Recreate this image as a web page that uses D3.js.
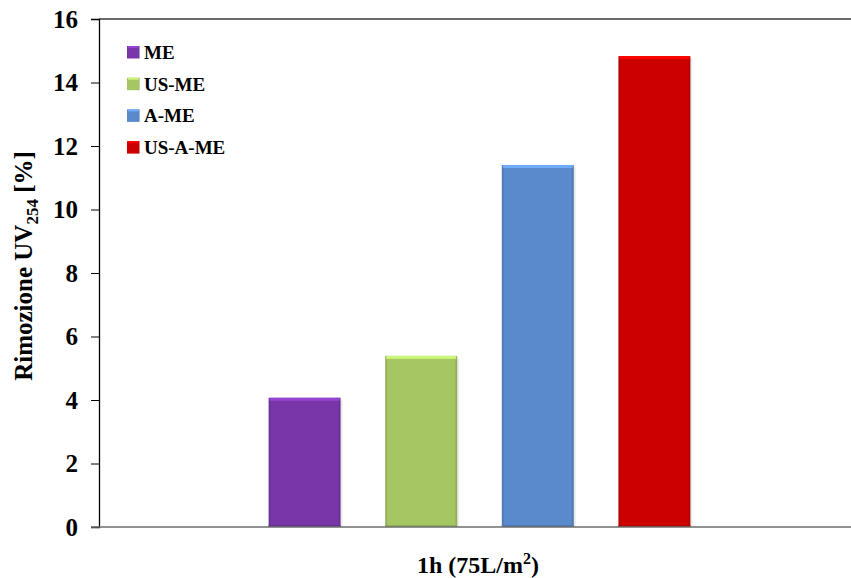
<!DOCTYPE html>
<html><head><meta charset="utf-8">
<script src="https://cdn.jsdelivr.net/npm/d3@7"></script>
<style>body{margin:0;background:#fff}svg{display:block}svg text{font-family:"Liberation Serif","Times New Roman",Times,serif !important;font-weight:bold;fill:#000}</style>
</head><body><div id="chart"></div>
<script>
const categories = ["1h (75L/m²)"];
const seriesNames = ["ME", "US-ME", "A-ME", "US-A-ME"];
const seriesValues = [4.07, 5.39, 11.40, 14.83];
const seriesColors = ["#7836A8", "#A5C663", "#5A8ACB", "#CC0000"];
const yTicks = [0, 2, 4, 6, 8, 10, 12, 14, 16];

const W = 851, H = 578;
const m = {left: 99, top: 19, right: -9, bottom: 51};
const pw = W - m.left - m.right, ph = H - m.top - m.bottom;
const FF = '"Liberation Serif","Times New Roman",Times,serif';

const svg = d3.select("#chart").append("svg").attr("width", W).attr("height", H);
const defs = svg.append("defs");
seriesColors.forEach((c, i) => {
  const g = defs.append("linearGradient").attr("id", "g" + i).attr("x1", 0).attr("x2", 1).attr("y1", 0).attr("y2", 0);
  const dk = d3.color(c).darker(0.5);
  g.append("stop").attr("offset", "0%").attr("stop-color", dk);
  g.append("stop").attr("offset", "4%").attr("stop-color", c);
  g.append("stop").attr("offset", "96%").attr("stop-color", c);
  g.append("stop").attr("offset", "100%").attr("stop-color", dk);
});

const g = svg.append("g").attr("transform", `translate(${m.left},${m.top})`);
const y = d3.scaleLinear().domain([0, 16]).range([ph, 0]);
const x0 = d3.scaleBand().domain(categories).range([0, pw]).padding(0.24);
const x1 = d3.scaleBand().domain(seriesNames).range([0, x0.bandwidth()]).paddingInner(0.383).paddingOuter(0.1915);

g.append("line").attr("x1", 0).attr("x2", pw).attr("y1", 0).attr("y2", 0).attr("stroke", "#3a3a3a").attr("stroke-width", 1.5);

const bg = g.append("g").attr("transform", `translate(${x0(categories[0])},0)`);
seriesNames.forEach((s, i) => {
  const bx = x1(s), bw = x1.bandwidth(), by = y(seriesValues[i]), bh = y(0) - y(seriesValues[i]);
  bg.append("rect").attr("x", bx + 2).attr("y", by + 2).attr("width", bw).attr("height", bh - 2).attr("fill", "#000").attr("opacity", 0.08);
  bg.append("rect").attr("x", bx).attr("y", by).attr("width", bw).attr("height", bh).attr("fill", `url(#g${i})`);
  bg.append("rect").attr("x", bx + 1).attr("y", by).attr("width", bw - 2).attr("height", 3).attr("fill", d3.color(seriesColors[i]).brighter(0.6));
  bg.append("rect").attr("x", bx).attr("y", by + bh - 2).attr("width", bw).attr("height", 2).attr("fill", d3.color(seriesColors[i]).darker(0.4));
});

const ya = g.append("g").call(d3.axisLeft(y).tickValues(yTicks).tickSize(8).tickPadding(13).tickFormat(d3.format("d")));
ya.attr("font-family", FF).attr("font-size", 25).attr("font-weight", "bold");
ya.select(".domain").attr("stroke", "#000").attr("stroke-width", 1.3);
ya.selectAll(".tick line").attr("stroke", "#000");
ya.selectAll("text").attr("fill", "#000");

g.append("line").attr("x1", -8).attr("x2", pw).attr("y1", ph).attr("y2", ph).attr("stroke", "#6e6e6e").attr("stroke-width", 1.6);

svg.append("text").attr("x", 478).attr("y", 573).attr("text-anchor", "middle").attr("font-family", FF).attr("font-size", 24)
  .call(t => { t.append("tspan").text("1h (75L/m"); t.append("tspan").attr("dy", -9).attr("font-size", 16).text("2"); t.append("tspan").attr("dy", 9).text(")"); });

svg.append("text").attr("transform", "translate(32,266) rotate(-90)").attr("text-anchor", "middle").attr("font-family", FF).attr("font-size", 25)
  .call(t => { t.append("tspan").text("Rimozione UV"); t.append("tspan").attr("dy", 6).attr("font-size", 17).text("254"); t.append("tspan").attr("dy", -6).text(" [%]"); });

const lg = svg.append("g").attr("transform", "translate(127,46)");
seriesNames.forEach((s, i) => {
  const row = lg.append("g").attr("transform", `translate(0,${i * 31.7})`);
  row.append("rect").attr("width", 12.5).attr("height", 12.5).attr("fill", `url(#g${i})`);
  row.append("rect").attr("x", 1).attr("width", 10.5).attr("height", 2).attr("fill", d3.color(seriesColors[i]).brighter(0.6));
  row.append("text").attr("x", 17).attr("y", 13).attr("font-family", FF).attr("font-size", 19).text(s);
});
</script></body></html>
